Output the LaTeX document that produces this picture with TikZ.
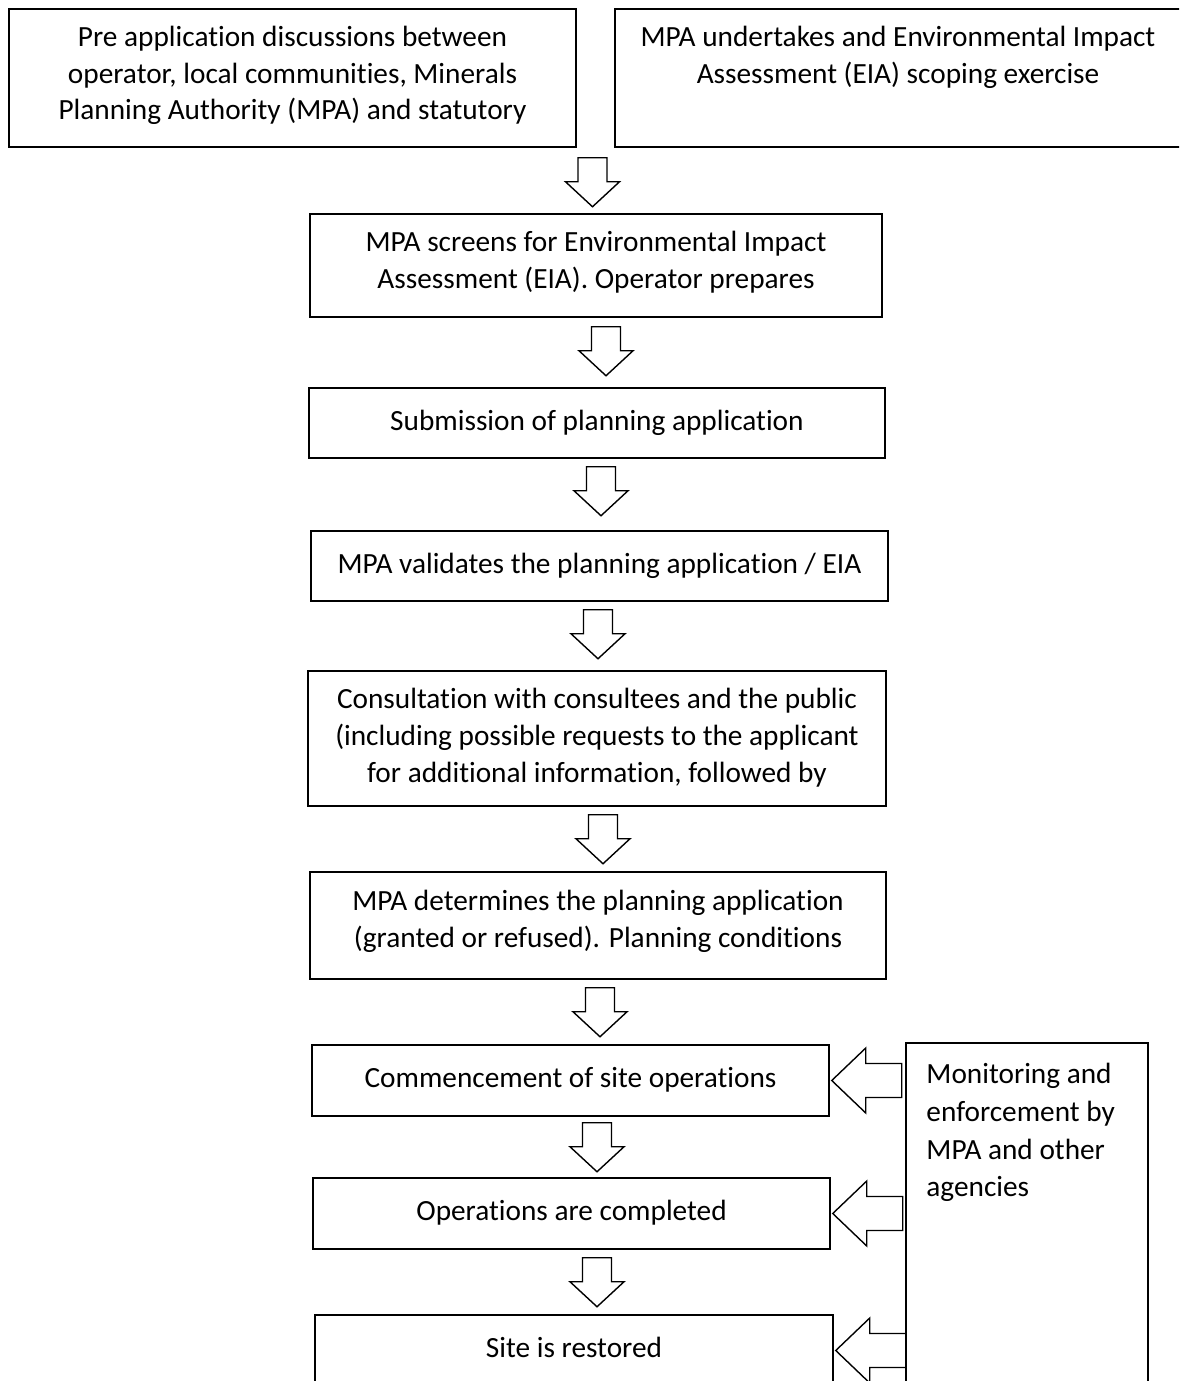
\documentclass[tikz,border=0pt]{standalone}
\usepackage{fontspec}
\setmainfont{Carlito}[Ligatures=NoCommon]
\usetikzlibrary{calc}

\begin{document}
\begin{tikzpicture}[
  x=1pt, y=-1pt,
  stepbox/.style={draw, line width=1.5pt, inner sep=0pt},
  steptext/.style={font=\fontsize{29.3}{36.6}\selectfont, align=center, anchor=north,
    inner sep=0pt, execute at begin node=\strut},
  blockline/.style={draw, line width=1.4pt, line join=miter},
  downarrow/.pic={
    \draw[blockline] (-14.5,0) -- (14.5,0) -- (14.5,24) -- (27,24) -- (0,49)
      -- (-27,24) -- (-14.5,24) -- cycle;
  },
  leftarrow/.pic={
    \draw[blockline] (0,0) -- (34,-32.5) -- (34,-17) -- (70,-17) -- (70,17)
      -- (34,17) -- (34,32.5) -- cycle;
  },
]
  \useasboundingbox (0,0) rectangle (1179,1381);
  \fill[white] (0,0) rectangle (1179,1381);
  \clip (0,0) rectangle (1179,1381);

  % Top row
  \node[stepbox, minimum width=567pt, minimum height=138pt] (pre) at (292.5,78) {};
  \node[steptext] (pretxt) at ([yshift=-18pt]pre.north)
      {Pre application discussions between\\operator, local communities, Minerals\\Planning Authority (MPA) and statutory};
  \node[stepbox, minimum width=566pt, minimum height=138pt] (eia) at (898,78) {};
  \node[steptext] (eiatxt) at ([yshift=-18pt]eia.north)
      {MPA undertakes and Environmental Impact\\Assessment (EIA) scoping exercise};

  % Main steps
  \node[stepbox, minimum width=572pt, minimum height=103pt] (screen) at (596,265.5) {};
  \node[steptext] (screentxt) at ([yshift=-18pt]screen.north)
      {MPA screens for Environmental Impact\\Assessment (EIA). Operator prepares};
  \node[stepbox, minimum width=576pt, minimum height=70pt] (submit) at (597,423) {};
  \node[steptext] (submittxt) at ([yshift=-17pt]submit.north)
      {Submission of planning application};
  \node[stepbox, minimum width=577pt, minimum height=70pt] (validate) at (599.5,566) {};
  \node[steptext] (validatetxt) at ([yshift=-17pt]validate.north)
      {MPA validates the planning application / EIA};
  \node[stepbox, minimum width=578pt, minimum height=135pt] (consult) at (597,738.5) {};
  \node[steptext] (consulttxt) at ([yshift=-18pt]consult.north)
      {Consultation with consultees and the public\\(including possible requests to the applicant\\for additional information, followed by};
  \node[stepbox, minimum width=576pt, minimum height=107pt] (decide) at (598,925.5) {};
  \node[steptext] (decidetxt) at ([yshift=-19pt]decide.north)
      {MPA determines the planning application\\(granted or refused). Planning conditions};
  \node[stepbox, minimum width=517pt, minimum height=71pt] (start) at (570.5,1080.5) {};
  \node[steptext] (starttxt) at ([yshift=-17pt]start.north)
      {Commencement of site operations};
  \node[stepbox, minimum width=517pt, minimum height=71pt] (complete) at (571.5,1213.5) {};
  \node[steptext] (completetxt) at ([yshift=-17pt]complete.north)
      {Operations are completed};
  \node[stepbox, minimum width=518pt, minimum height=71pt] (restore) at (574,1350.5) {};
  \node[steptext] (restoretxt) at ([yshift=-17pt]restore.north)
      {Site is restored};

  % Monitoring box
  \node[stepbox, minimum width=242pt, minimum height=357pt] (monitor) at (1027,1221.5) {};
  \node[steptext, font=\fontsize{29.3}{37.7}\selectfont, anchor=north west, align=left]
      (monitortxt) at ([xshift=21pt,yshift=-21pt]monitor.north west)
      {Monitoring and\\enforcement by\\MPA and other\\agencies};

  % Block arrows down
  \pic at ($(pre.south east)!0.5!(eia.south west)+(-3,10)$) {downarrow};
  \pic at ($(screen.south)+(10,9)$) {downarrow};
  \pic at ($(submit.south)+(4,8)$) {downarrow};
  \pic at ($(validate.south)+(-1.5,8)$) {downarrow};
  \pic at ($(consult.south)+(6,8)$) {downarrow};
  \pic at ($(decide.south)+(2,8)$) {downarrow};
  \pic at ($(start.south)+(26.5,6)$) {downarrow};
  \pic at ($(complete.south)+(25.5,8)$) {downarrow};

  % Block arrows from monitoring
  \pic at ($(start.east)+(2,0)$) {leftarrow};
  \pic at ($(complete.east)+(2,0)$) {leftarrow};
  \pic at ($(restore.east)+(2,0)$) {leftarrow};
\end{tikzpicture}
\end{document}
